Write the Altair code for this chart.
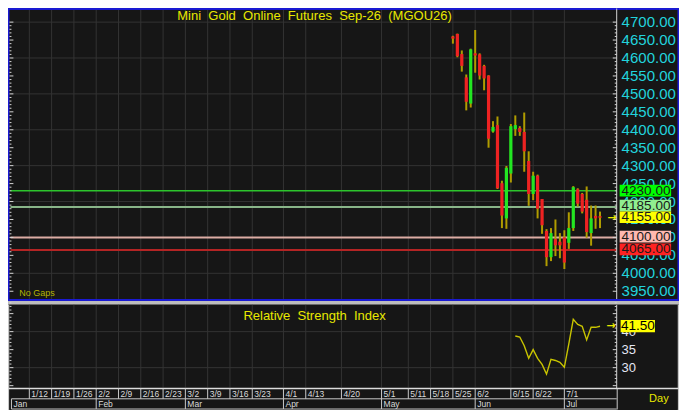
import altair as alt
import pandas as pd

# ---------------- data ----------------
opens  = [4660, 4667, 4611, 4546, 4473, 4613, 4610, 4578, 4551, 4395, 4413, 4251, 4153, 4278, 4402, 4405, 4394,
          4313, 4221, 4272, 4207, 4118, 4045, 4095, 4088, 4100, 4085, 4126, 4234, 4221, 4205, 4112, 4160, 4159]
highs  = [4662, 4668, 4621, 4554, 4626, 4678, 4613, 4581, 4552, 4424, 4437, 4258, 4299, 4416, 4440, 4410, 4448,
          4340, 4283, 4275, 4207, 4123, 4126, 4150, 4112, 4120, 4170, 4243, 4237, 4224, 4242, 4189, 4189, 4172]
lows   = [4640, 4602, 4562, 4454, 4462, 4559, 4540, 4510, 4350, 4392, 4235, 4126, 4124, 4253, 4383, 4383, 4283,
          4188, 4204, 4153, 4110, 4020, 4034, 4048, 4042, 4012, 4068, 4118, 4186, 4167, 4099, 4077, 4124, 4126]
closes = [4654, 4605, 4578, 4478, 4624, 4607, 4551, 4543, 4375, 4408, 4237, 4161, 4294, 4410, 4413, 4394, 4340,
          4221, 4272, 4180, 4134, 4045, 4112, 4078, 4078, 4030, 4126, 4240, 4194, 4172, 4115, 4153, 4153, 4155]
candle_idx = list(range(len(opens)))

rsi_idx = list(range(14, 34))
rsi_vals = [38.8, 38.5, 36.1, 32.6, 35.0, 32.6, 30.9, 28.2, 32.3, 32.0,
            31.5, 30.1, 36.6, 43.4, 42.0, 41.5, 37.7, 41.2, 41.2, 41.5]
last_rsi = 41.5
last_price = 4155

level_values = [4230, 4185, 4100, 4065]
level_colors = ["#2cc42c", "#88b488", "#dcaca4", "#b42424"]
level_widths = [1.5, 2.0, 2.0, 2.0]

box_texts  = ["4230.00", "4185.00", "4155.00", "4100.00", "4065.00"]
box_anchor = [4230.5, 4188.7, 4156.2, 4102, 4066.8]
box_fills  = ["#00ff00", "#90ee90", "#ffff00", "#ffb8b0", "#ff2222"]

price_labels = list(range(3950, 4701, 50))
price_grid = list(range(4000, 4701, 100))
price_minor = list(range(3950, 4701, 10))

rsi_labels = [30, 35, 40]
rsi_grid = [30, 40]
rsi_minor = list(range(25, 49))

week_labels = ["1/12", "1/19", "1/26", "2/2", "2/9", "2/16", "2/23", "3/2", "3/9", "3/16", "3/23",
               "4/1", "4/13", "4/20", "5/1", "5/11", "5/18", "5/25", "6/2", "6/15", "6/22", "7/1"]
week_idx = [-95, -90, -85, -80, -75, -70, -65, -60, -55, -50, -45,
            -38, -33, -25, -16, -10, -5, 0, 5, 13, 18, 25]
month_labels = ["Jan", "Feb", "Mar", "Apr", "May", "Jun", "Jul"]
month_idx = [-99, -80, -60, -38, -16, 5, 25]

TITLE = "Mini Gold Online Futures Sep-26 (MGOU26)"
RSI_TITLE = "Relative Strength Index"

# ---------------- layout helpers ----------------
W, H = 671, 402
FONT = "Liberation Sans"
BG = "#161616"
GRID = "#333333"
AXC = "#d4d4d4"
WICK = "#b09c00"
YEL = "#e8e800"


def px(X):
    return round(0.5 + (X - 2) * 670.0 / 683.0, 2)


def py(Y):
    return round(max(0.5, (Y - 5) * 402.0 / 413.0), 2)


def vx(X):
    return alt.value(px(X))


def vy(Y):
    return alt.value(py(Y))


one = pd.DataFrame({"k": [0]})

xs = alt.Scale(domain=[-99.23, 36.74], range=[px(4), px(622)], nice=False, zero=False)
ps = alt.Scale(domain=[3950, 4700], range=[py(296), py(19.5)], nice=False, zero=False)
rs = alt.Scale(domain=[30, 40], range=[py(374.5), py(337.5)], nice=False, zero=False)


def X(field):
    return alt.X(field, scale=xs, axis=None)


def PY(field):
    return alt.Y(field, scale=ps, axis=None)


def RY(field):
    return alt.Y(field, scale=rs, axis=None)


def seg(x1, y1, x2, y2, color, w=1.0):
    return alt.Chart(one).mark_rule(color=color, strokeWidth=w).encode(
        x=vx(x1), x2=vx(x2), y=vy(y1), y2=vy(y2))


def rect(x1, y1, x2, y2, fill):
    return alt.Chart(one).mark_rect(color=fill).encode(
        x=vx(x1), x2=vx(x2), y=vy(y1), y2=vy(y2))


def label(text, x, y, color, size, align="center"):
    return alt.Chart(one).mark_text(text=text, color=color, fontSize=size, font=FONT,
                                    align=align, baseline="middle").encode(x=vx(x), y=vy(y))


def spaced(s):
    return s.replace(" ", "\u00a0\u00a0")


# ---------------- tables ----------------
cdf = pd.DataFrame({"idx": candle_idx, "o": opens, "h": highs, "l": lows, "c": closes})
cdf["col"] = ["#22e622" if c > o else "#ee2222" for o, c in zip(opens, closes)]
rdf = pd.DataFrame({"idx": rsi_idx, "rsi": rsi_vals})
ldf = pd.DataFrame({"v": level_values, "col": level_colors, "w": level_widths})
bdf = pd.DataFrame({"t": box_texts, "a": box_anchor, "fill": box_fills})
bdf["top"] = bdf["a"] + 16.3
bdf["bot"] = bdf["a"] - 16.3
pl = pd.DataFrame({"v": price_labels, "t": [f"{v:.2f}" for v in price_labels]})
pg = pd.DataFrame({"v": price_grid})
pmaj = pd.DataFrame({"v": [v for v in price_minor if v % 50 == 0]})
pmin = pd.DataFrame({"v": [v for v in price_minor if v % 50 != 0]})
rl = pd.DataFrame({"v": rsi_labels, "t": [str(v) for v in rsi_labels]})
rg = pd.DataFrame({"v": rsi_grid})
rmaj = pd.DataFrame({"v": [v for v in rsi_minor if v % 5 == 0]})
rmin = pd.DataFrame({"v": [v for v in rsi_minor if v % 5 != 0]})
wk = pd.DataFrame({"idx": week_idx, "t": week_labels})
mo = pd.DataFrame({"idx": month_idx, "t": month_labels})
lastp = pd.DataFrame({"v": [last_price]})
lastr = pd.DataFrame({"v": [last_rsi], "t": [f"{last_rsi:.2f}"]})
lastr["top"] = lastr["v"] + 1.7
lastr["bot"] = lastr["v"] - 1.7

layers = []

# panel separator band
layers.append(rect(0, 306, 687, 309.5, "#bdbdbd"))

# grids
layers.append(alt.Chart(wk).mark_rule(color=GRID, strokeWidth=1).encode(x=X("idx:Q"), y=vy(3), y2=vy(304)))
layers.append(alt.Chart(wk).mark_rule(color=GRID, strokeWidth=1).encode(x=X("idx:Q"), y=vy(310), y2=vy(395)))
layers.append(alt.Chart(pg).mark_rule(color=GRID, strokeWidth=1).encode(y=PY("v:Q"), x=vx(4), x2=vx(621)))
layers.append(alt.Chart(rg).mark_rule(color=GRID, strokeWidth=1).encode(y=RY("v:Q"), x=vx(4), x2=vx(621)))

# level lines
layers.append(alt.Chart(ldf).mark_rule().encode(
    y=PY("v:Q"), x=vx(4), x2=vx(622),
    color=alt.Color("col:N", scale=None), strokeWidth=alt.StrokeWidth("w:Q", scale=None)))

# candles
layers.append(alt.Chart(cdf).mark_rule(color=WICK, strokeWidth=2).encode(
    x=X("idx:Q"), y=PY("l:Q"), y2="h:Q"))
layers.append(alt.Chart(cdf).mark_rule(strokeWidth=3.2).encode(
    x=X("idx:Q"), y=PY("o:Q"), y2="c:Q", color=alt.Color("col:N", scale=None)))

# RSI line
layers.append(alt.Chart(rdf).mark_line(color="#c8c400", strokeWidth=1.4).encode(
    x=X("idx:Q"), y=RY("rsi:Q")))

# frames and axis lines
layers.append(alt.Chart(one).mark_rect(fillOpacity=0, stroke="#1a1ad2", strokeWidth=2).encode(
    x=vx(2), x2=vx(685), y=alt.value(1), y2=vy(305)))
layers.append(seg(622, 3, 622, 304, AXC, 1))
layers.append(seg(2, 309.5, 2, 418, "#c8c8c8", 1.5))
layers.append(seg(685, 309.5, 685, 418, "#c8c8c8", 1.5))
layers.append(seg(622, 310, 622, 396, AXC, 1))

# price ticks
layers.append(alt.Chart(pmaj).mark_rule(color=AXC, strokeWidth=1).encode(y=PY("v:Q"), x=vx(618), x2=vx(622)))
layers.append(alt.Chart(pmin).mark_rule(color=AXC, strokeWidth=1).encode(y=PY("v:Q"), x=vx(620), x2=vx(622)))
layers.append(alt.Chart(pmaj).mark_rule(color=AXC, strokeWidth=1).encode(y=PY("v:Q"), x=vx(3), x2=vx(7)))
layers.append(alt.Chart(pmin).mark_rule(color=AXC, strokeWidth=1).encode(y=PY("v:Q"), x=vx(3), x2=vx(5)))
# rsi ticks
layers.append(alt.Chart(rmaj).mark_rule(color=AXC, strokeWidth=1).encode(y=RY("v:Q"), x=vx(618), x2=vx(622)))
layers.append(alt.Chart(rmin).mark_rule(color=AXC, strokeWidth=1).encode(y=RY("v:Q"), x=vx(620), x2=vx(622)))
layers.append(alt.Chart(rmaj).mark_rule(color=AXC, strokeWidth=1).encode(y=RY("v:Q"), x=vx(3), x2=vx(7)))
layers.append(alt.Chart(rmin).mark_rule(color=AXC, strokeWidth=1).encode(y=RY("v:Q"), x=vx(3), x2=vx(5)))

# tick labels
layers.append(alt.Chart(pl).mark_text(color="#22d3dd", fontSize=15, font=FONT, align="left",
                                      baseline="middle").encode(y=PY("v:Q"), x=vx(627), text="t:N"))
layers.append(alt.Chart(rl).mark_text(color="#e4e6f4", fontSize=13, font=FONT, align="left",
                                      baseline="middle").encode(y=RY("v:Q"), x=vx(627), text="t:N"))

# value boxes
layers.append(alt.Chart(bdf).mark_rect().encode(
    y=PY("top:Q"), y2="bot:Q", x=vx(625), x2=vx(677.5), color=alt.Color("fill:N", scale=None)))
layers.append(alt.Chart(bdf).mark_text(color="#1a1a1a", fontSize=13.5, font=FONT, align="left",
                                       baseline="middle").encode(y=PY("a:Q"), x=vx(627), text="t:N"))
layers.append(alt.Chart(lastr).mark_rect(color="#ffff00").encode(
    y=RY("top:Q"), y2="bot:Q", x=vx(626), x2=vx(661)))
layers.append(alt.Chart(lastr).mark_text(color="#000000", fontSize=13.5, font=FONT, align="center",
                                         baseline="middle").encode(y=RY("v:Q"), x=vx(643.5), text="t:N"))

# last value arrows
layers.append(alt.Chart(lastp).mark_text(text="\u2192", color="#e8e800", fontSize=11, font="DejaVu Sans",
                                         fontWeight="bold", baseline="middle").encode(y=PY("v:Q"), x=vx(617)))
layers.append(alt.Chart(lastr).mark_text(text="\u2192", color="#e8e800", fontSize=11, font="DejaVu Sans",
                                         fontWeight="bold", baseline="middle").encode(y=RY("v:Q"), x=vx(616)))

# titles and notes
layers.append(label(spaced(TITLE), 314, 13.2, YEL, 13))
layers.append(label(spaced(RSI_TITLE), 314, 321.5, YEL, 13))
layers.append(label("No Gaps", 13, 298, "#b4b400", 9, align="left"))

# date axis
layers.append(rect(3, 396, 684, 417.5, BG))
layers.append(seg(2, 395.8, 685, 395.8, "#dcdcdc", 1.5))
layers.append(seg(5, 406.5, 622, 406.5, "#c8c8c8", 1))
layers.append(seg(5, 417, 622, 417, "#c8c8c8", 1))
layers.append(seg(5, 406.5, 5, 417, "#c8c8c8", 1))
layers.append(seg(622.5, 396, 622.5, 417.5, "#c8c8c8", 1))
layers.append(alt.Chart(wk).mark_rule(color="#c8c8c8", strokeWidth=1).encode(
    x=X("idx:Q"), y=vy(396), y2=vy(406.5)))
layers.append(alt.Chart(wk).mark_text(color="#dadada", fontSize=8.5, font=FONT, align="left", dx=2,
                                      baseline="middle").encode(x=X("idx:Q"), y=vy(401.5), text="t:N"))
layers.append(alt.Chart(mo[mo["idx"] > -99]).mark_rule(color="#c8c8c8", strokeWidth=1).encode(
    x=X("idx:Q"), y=vy(406.5), y2=vy(417)))
layers.append(alt.Chart(mo).mark_text(color="#dadada", fontSize=8.5, font=FONT, align="left", dx=2,
                                      baseline="middle").encode(x=X("idx:Q"), y=vy(412), text="t:N"))
layers.append(label("Day", 665, 406.5, YEL, 11))

chart = (
    alt.layer(*layers)
    .resolve_scale(y="independent")
    .properties(width=W, height=H, background=BG, padding=0,
                autosize=alt.AutoSizeParams(type="none"))
    .configure_view(stroke="transparent")
)

chart.save("out.html", embed_options={"renderer": "svg", "actions": False})
